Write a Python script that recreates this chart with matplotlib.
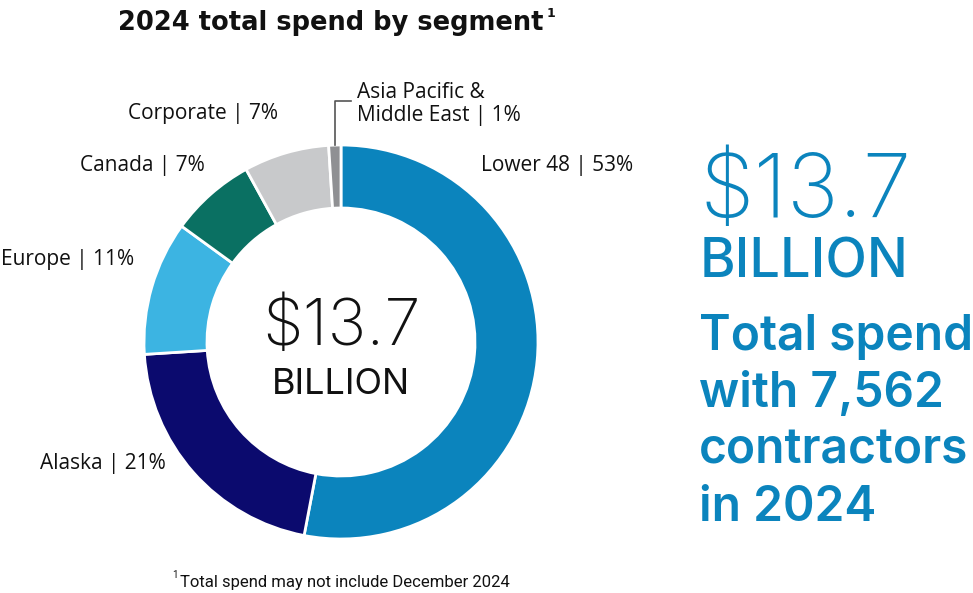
import matplotlib.pyplot as plt

# spend share by segment, clockwise from 12 o'clock
segments = ["Lower 48", "Alaska", "Europe", "Canada", "Corporate", "Asia Pacific &\nMiddle East"]
shares = [53, 21, 11, 7, 7, 1]
colors = ["#0B84BD", "#0B0A6E", "#3CB4E2", "#0A7062", "#C8C9CB", "#8F9093"]

total_spend = "$13.7"
contractors = "7,562"
year = 2024

W, H = 973, 593
BLUE = "#0B84BD"

fig = plt.figure(figsize=(W / 100, H / 100), dpi=100)
ax = fig.add_axes([0, 0, 1, 1])
ax.set_xlim(0, W)
ax.set_ylim(0, H)
ax.set_aspect("equal")
ax.axis("off")


def Y(y):
    # pixel row from the top -> data y
    return H - y


cx, cy, r = 341, Y(342), 197
ax.pie(shares, colors=colors, startangle=90, counterclock=False,
       center=(cx, cy), radius=r,
       wedgeprops=dict(width=63, edgecolor="white", linewidth=2))
ax.set_xlim(0, W)
ax.set_ylim(0, H)

lab = dict(fontsize=15, family="Open Sans", color="#111111", va="center")
ax.text(481, Y(165), f"{segments[0]} | {shares[0]}%", ha="left", **lab)
ax.text(166, Y(463), f"{segments[1]} | {shares[1]}%", ha="right", **lab)
ax.text(134, Y(260), f"{segments[2]} | {shares[2]}%", ha="right", **lab)
ax.text(205, Y(165), f"{segments[3]} | {shares[3]}%", ha="right", **lab)
ax.text(278, Y(114), f"{segments[4]} | {shares[4]}%", ha="right", **lab)
ax.text(357, Y(104), f"{segments[5]} | {shares[5]}%", ha="left",
        linespacing=1.1, **lab)
# leader line for the thin slice
ax.plot([335, 335, 351], [Y(145), Y(101), Y(101)], color="#555555", lw=1.2)

# title with footnote marker
title = ax.text(331, Y(30), f"{year} total spend by segment", ha="center",
                va="baseline", fontsize=18.5, fontweight="bold",
                family="DejaVu Sans", color="#111111")
fig.canvas.draw()
bb = title.get_window_extent()
ax.text(bb.x1 + 3, Y(17), "1", ha="left", va="baseline", fontsize=9,
        fontweight="bold", family="DejaVu Sans", color="#111111")

# centre of donut
ax.text(cx, Y(345), total_spend, ha="center", va="baseline", fontsize=47,
        fontweight="light", family="Inter", color="#111111")
ax.text(cx, Y(394), "BILLION", ha="center", va="baseline", fontsize=26,
        family="Inter", color="#111111")

# right-hand callout
ax.text(700, Y(217), total_spend, ha="left", va="baseline", fontsize=63,
        fontweight="light", family="Inter", color=BLUE)
ax.text(700, Y(278), "BILLION", ha="left", va="baseline", fontsize=39,
        fontweight="medium", family="Inter", color=BLUE)
lines = ["Total spend", f"with {contractors}", "contractors", f"in {year}"]
for i, s in enumerate(lines):
    ax.text(699, Y(350 + 57 * i), s, ha="left", va="baseline", fontsize=34.5,
            fontweight="semibold", family="Inter", color=BLUE)

# footnote
ax.text(172, Y(578), "1", ha="left", va="baseline", fontsize=7,
        family="Roboto", color="#111111")
ax.text(180, Y(587), f"Total spend may not include December {year}", ha="left",
        va="baseline", fontsize=12, family="Roboto", color="#111111")

fig.savefig("out.png", dpi=100)
